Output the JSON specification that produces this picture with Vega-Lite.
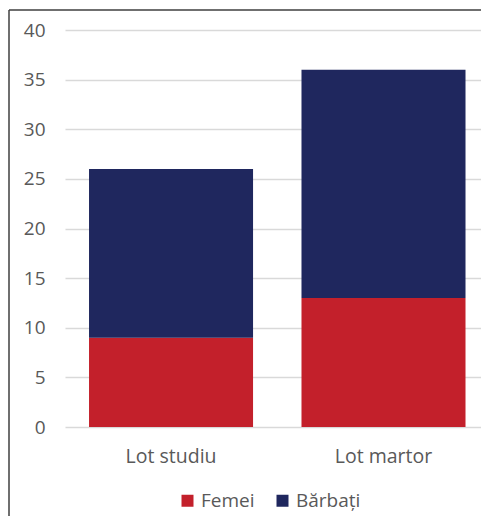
{
  "$schema": "https://vega.github.io/schema/vega-lite/v6.json",
  "autosize": "none",
  "width": 472,
  "height": 506,
  "padding": {"left": 9, "top": 10, "right": 0, "bottom": 0},
  "background": "white",
  "view": {
    "stroke": "#404040",
    "strokeWidth": 1.5,
    "strokeDash": [472, 978, 506, 0]
  },
  "data": {
    "values": [
      {"lot": "Lot studiu", "sex": "Femei", "n": 9},
      {"lot": "Lot studiu", "sex": "Bărbați", "n": 17},
      {"lot": "Lot martor", "sex": "Femei", "n": 13},
      {"lot": "Lot martor", "sex": "Bărbați", "n": 23}
    ]
  },
  "mark": {"type": "bar"},
  "encoding": {
    "x": {
      "field": "lot",
      "type": "nominal",
      "sort": ["Lot studiu", "Lot martor"],
      "scale": {"range": [56, 472], "paddingInner": 0.228, "paddingOuter": 0.093, "align": 0.608},
      "axis": {
        "title": null,
        "orient": "bottom",
        "offset": -89,
        "domain": false,
        "ticks": false,
        "labelAngle": 0,
        "labelPadding": 20,
        "labelFont": "Open Sans",
        "labelFontSize": 19.5,
        "labelColor": "#595959"
      }
    },
    "y": {
      "field": "n",
      "type": "quantitative",
      "stack": "zero",
      "scale": {"domain": [0, 40], "range": [417, 20], "nice": false},
      "axis": {
        "title": null,
        "orient": "left",
        "offset": -56,
        "values": [0, 5, 10, 15, 20, 25, 30, 35, 40],
        "domain": false,
        "ticks": false,
        "grid": true,
        "gridColor": "#d9d9d9",
        "gridWidth": 1.5,
        "labelPadding": 20,
        "labelFont": "Open Sans",
        "labelFontSize": 19,
        "labelColor": "#595959"
      }
    },
    "color": {
      "field": "sex",
      "type": "nominal",
      "scale": {"domain": ["Femei", "Bărbați"], "range": ["#c3202b", "#1f275e"]},
      "legend": {
        "title": null,
        "orient": "none",
        "legendX": 169,
        "legendY": 481,
        "direction": "horizontal",
        "symbolType": "square",
        "symbolSize": 144,
        "symbolStrokeWidth": 0,
        "labelFont": "Open Sans",
        "labelFontSize": 19,
        "labelColor": "#595959",
        "labelOffset": 4,
        "columnPadding": 18
      }
    },
    "order": {"field": "sex", "sort": "descending"}
  }
}
